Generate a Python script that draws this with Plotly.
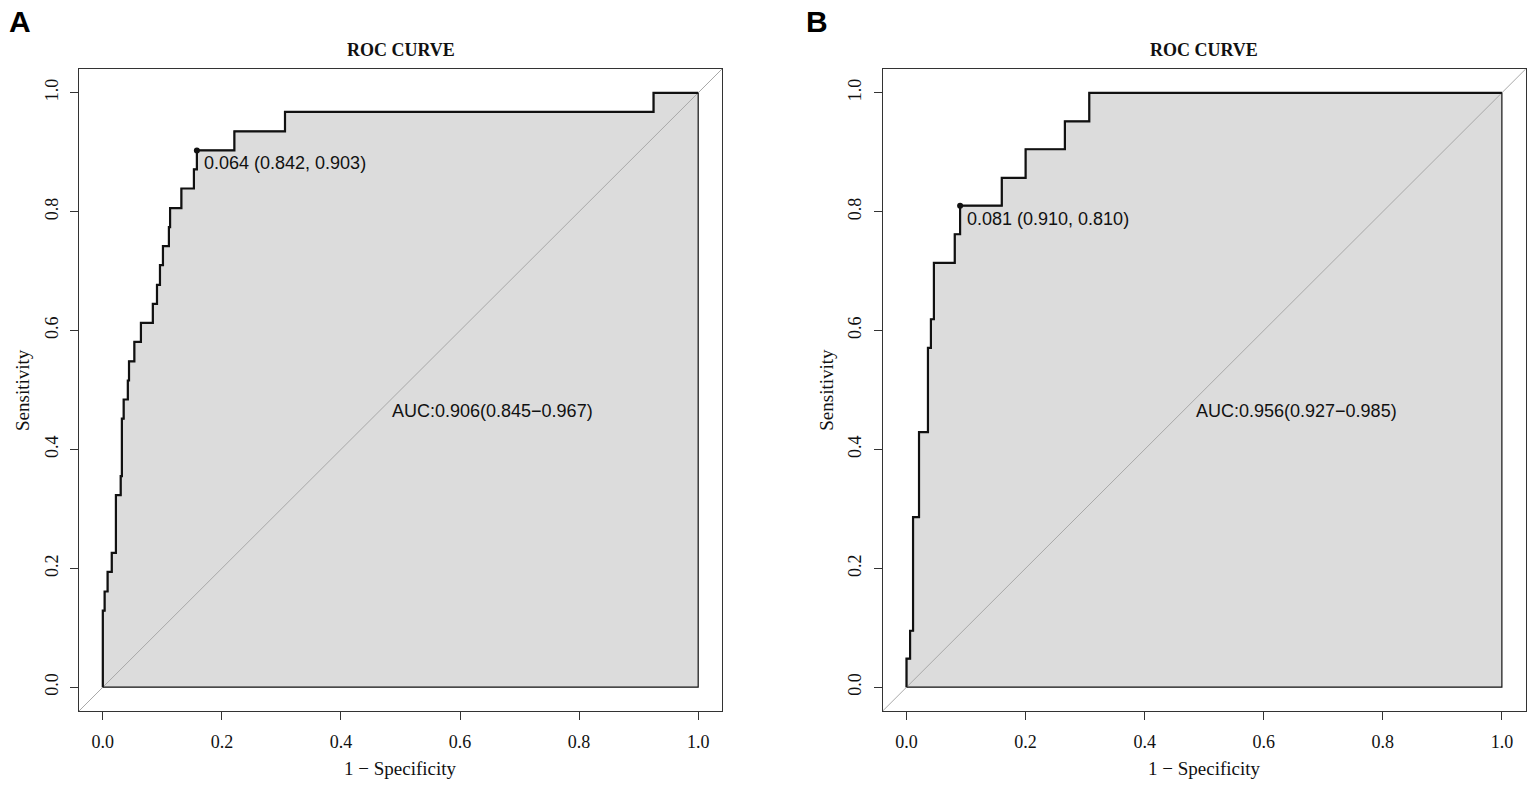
"""Two ROC curves side by side (panels A and B)."""

import plotly.graph_objects as go

# ---- data ----
# step corners of the ROC curve: (1 - specificity, sensitivity)
fpr_a = [0.0, 0.0, 0.003, 0.008, 0.015, 0.022, 0.030, 0.032, 0.035, 0.042,
         0.044, 0.053, 0.064, 0.084, 0.091, 0.096, 0.101, 0.111, 0.113,
         0.132, 0.153, 0.158, 0.221, 0.306, 0.925, 1.0]
tpr_a = [0.0, 0.129, 0.161, 0.194, 0.226, 0.323, 0.355, 0.452, 0.484, 0.516,
         0.548, 0.581, 0.613, 0.645, 0.677, 0.710, 0.742, 0.774, 0.806,
         0.839, 0.871, 0.903, 0.935, 0.968, 1.0, 1.0]
cut_a = (0.158, 0.903)
cut_label_a = "0.064 (0.842, 0.903)"
auc_label_a = "AUC:0.906(0.845\u22120.967)"

fpr_b = [0.0, 0.0, 0.006, 0.011, 0.021, 0.036, 0.041, 0.046, 0.081, 0.090,
         0.160, 0.200, 0.266, 0.307, 1.0]
tpr_b = [0.0, 0.048, 0.095, 0.286, 0.429, 0.571, 0.619, 0.714, 0.762, 0.810,
         0.857, 0.905, 0.952, 1.0, 1.0]
cut_b = (0.090, 0.810)
cut_label_b = "0.081 (0.910, 0.810)"
auc_label_b = "AUC:0.956(0.927\u22120.985)"

tick_vals = [0.0, 0.2, 0.4, 0.6, 0.8, 1.0]
tick_text = ["0.0", "0.2", "0.4", "0.6", "0.8", "1.0"]
axis_range = [-0.04, 1.04]

# ---- style ----
W, H = 1535, 787
SERIF = "Liberation Serif, Times New Roman, serif"
SANS = "Liberation Sans, Arial, sans-serif"
FILL = "#DCDCDC"
INK = "#111111"
AXIS_COL = "#333333"


def px_x(p):
    return p / W


def px_y(p):
    return 1 - p / H


panels = [
    dict(fpr=fpr_a, tpr=tpr_a, cut=cut_a, cut_label=cut_label_a,
         auc_label=auc_label_a, xref="x", yref="y", box=(79, 722), letter="A", letter_x=20),
    dict(fpr=fpr_b, tpr=tpr_b, cut=cut_b, cut_label=cut_label_b,
         auc_label=auc_label_b, xref="x2", yref="y2", box=(882.7, 1525.7), letter="B", letter_x=817),
]

fig = go.Figure()
annotations = []

for p in panels:
    xa, ya = p["xref"], p["yref"]

    # AUC polygon: curve, then down the right edge and back along the bottom
    fig.add_trace(go.Scatter(
        x=p["fpr"] + [p["fpr"][-1], p["fpr"][0]],
        y=p["tpr"] + [p["tpr"][0], p["tpr"][0]],
        mode="lines", line=dict(color=INK, width=1.2, shape="hv"),
        fill="toself", fillcolor=FILL, hoverinfo="skip",
        showlegend=False, xaxis=xa, yaxis=ya,
    ))

    # chance line across the whole plotting region
    fig.add_trace(go.Scatter(
        x=axis_range, y=axis_range, mode="lines",
        line=dict(color="#A8A8A8", width=1), hoverinfo="skip",
        showlegend=False, xaxis=xa, yaxis=ya,
    ))

    # ROC curve
    fig.add_trace(go.Scatter(
        x=p["fpr"], y=p["tpr"], mode="lines",
        line=dict(color=INK, width=2.2, shape="hv"),
        showlegend=False, xaxis=xa, yaxis=ya,
    ))

    # best threshold
    fig.add_trace(go.Scatter(
        x=[p["cut"][0]], y=[p["cut"][1]], mode="markers",
        marker=dict(color=INK, size=6), showlegend=False,
        xaxis=xa, yaxis=ya,
    ))

    annotations.append(dict(
        x=p["cut"][0], y=p["cut"][1], xref=xa, yref=ya,
        text=p["cut_label"], showarrow=False, xanchor="left", yanchor="middle",
        xshift=5, yshift=-13, font=dict(family=SANS, size=18, color=INK),
    ))
    annotations.append(dict(
        x=0.483, y=0.465, xref=xa, yref=ya,
        text=p["auc_label"], showarrow=False, xanchor="left", yanchor="middle",
        font=dict(family=SANS, size=18, color=INK),
    ))

    left, right = p["box"]
    centre = (left + right) / 2
    annotations.append(dict(
        x=px_x(centre), y=px_y(50), xref="paper", yref="paper",
        xanchor="center", yanchor="middle",
        text="<b>ROC CURVE</b>", showarrow=False,
        font=dict(family=SERIF, size=18, color=INK),
    ))
    annotations.append(dict(
        x=px_x(centre), y=px_y(768), xref="paper", yref="paper",
        xanchor="center", yanchor="middle",
        text="1 \u2212 Specificity", showarrow=False,
        font=dict(family=SERIF, size=19, color=INK),
    ))
    annotations.append(dict(
        x=px_x(left - 57), y=px_y(390), xref="paper", yref="paper",
        xanchor="center", yanchor="middle",
        text="Sensitivity", showarrow=False, textangle=-90,
        font=dict(family=SERIF, size=19, color=INK),
    ))
    annotations.append(dict(
        x=px_x(p["letter_x"]), y=px_y(22), xref="paper", yref="paper",
        xanchor="center", yanchor="middle",
        text="<b>" + p["letter"] + "</b>", showarrow=False,
        font=dict(family=SANS, size=30, color="#000000"),
    ))

axis_common = dict(
    range=axis_range, tickvals=tick_vals, ticktext=tick_text,
    showgrid=False, zeroline=False, showline=True, mirror=True,
    linecolor=AXIS_COL, linewidth=1.2, ticks="outside", ticklen=8,
    tickcolor=AXIS_COL, tickwidth=1.2,
    tickfont=dict(family=SERIF, size=18, color=INK),
    fixedrange=True,
)

y_dom = [px_y(711), px_y(69)]
fig.update_layout(
    width=W, height=H,
    margin=dict(l=0, r=0, t=0, b=0),
    paper_bgcolor="white", plot_bgcolor="white",
    xaxis=dict(domain=[px_x(79), px_x(722)], anchor="y", ticklabelstandoff=6, **axis_common),
    yaxis=dict(domain=y_dom, anchor="x", tickangle=-90, ticklabelstandoff=5, **axis_common),
    xaxis2=dict(domain=[px_x(882.7), px_x(1525.7)], anchor="y2", ticklabelstandoff=6, **axis_common),
    yaxis2=dict(domain=y_dom, anchor="x2", tickangle=-90, ticklabelstandoff=5, **axis_common),
    annotations=annotations,
    showlegend=False,
)

# drop the page's default body margin so the figure sits at the window corner
fig.write_html("out.html", config={"displayModeBar": False},
               post_script="document.body.style.margin='0';")
